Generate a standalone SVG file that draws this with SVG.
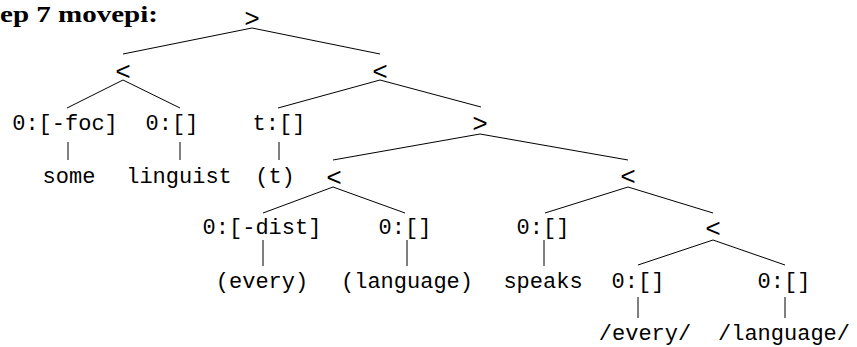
<svg xmlns="http://www.w3.org/2000/svg" width="857" height="347" viewBox="0 0 857 347">
<style>
.t{font-family:"Liberation Mono","DejaVu Sans Mono",monospace;font-size:22px;fill:#000;text-anchor:middle}
.o{font-family:"Liberation Mono","DejaVu Sans Mono",monospace;font-size:26px;fill:#000;text-anchor:middle}
.h{font-family:"Liberation Serif","DejaVu Serif",serif;font-size:23px;font-weight:bold;fill:#000}
#edges line{stroke:#000;stroke-width:1;fill:none}
</style>
<rect width="857" height="347" fill="#fff"/>
<text class="h" x="0" y="22" textLength="158" lengthAdjust="spacingAndGlyphs">ep 7 movepi:</text>
<g id="edges">
<line x1="252" y1="28" x2="123" y2="54"/>
<line x1="252" y1="28" x2="380" y2="54"/>
<line x1="123" y1="80" x2="67" y2="108"/>
<line x1="123" y1="80" x2="180" y2="108"/>
<line x1="380" y1="80" x2="278" y2="108"/>
<line x1="380" y1="80" x2="481" y2="107"/>
<line x1="68" y1="142" x2="68" y2="160"/>
<line x1="180" y1="142" x2="180" y2="160"/>
<line x1="279" y1="142" x2="279" y2="160"/>
<line x1="480" y1="134" x2="333" y2="160"/>
<line x1="480" y1="134" x2="628" y2="160"/>
<line x1="333" y1="187" x2="263" y2="213"/>
<line x1="333" y1="187" x2="405" y2="213"/>
<line x1="628" y1="187" x2="545" y2="213"/>
<line x1="628" y1="187" x2="713" y2="213"/>
<line x1="263" y1="240" x2="263" y2="266"/>
<line x1="407" y1="240" x2="407" y2="266"/>
<line x1="544" y1="240" x2="544" y2="266"/>
<line x1="713" y1="240" x2="638" y2="265"/>
<line x1="713" y1="240" x2="785" y2="265"/>
<line x1="638" y1="297" x2="638" y2="318"/>
<line x1="785" y1="297" x2="785" y2="318"/>
</g>
<g id="n-root"><text class="o" x="252" y="27">&gt;</text></g>
<g id="n-l1a"><text class="o" x="123" y="80">&lt;</text></g>
<g id="n-l1b"><text class="o" x="380" y="80">&lt;</text></g>
<g id="n-foc"><text class="t" x="65" y="130">0:[-foc]</text></g>
<g id="n-0a"><text class="t" x="172" y="130">0:[]</text></g>
<g id="n-t"><text class="t" x="279" y="130">t:[]</text></g>
<g id="n-gt2"><text class="o" x="480" y="132">&gt;</text></g>
<g id="n-some"><text class="t" x="69" y="183">some</text></g>
<g id="n-linguist"><text class="t" x="179" y="183">linguist</text></g>
<g id="n-tt"><text class="t" x="275" y="183">(t)</text></g>
<g id="n-lt3a"><text class="o" x="334" y="186">&lt;</text></g>
<g id="n-lt3b"><text class="o" x="628" y="185">&lt;</text></g>
<g id="n-dist"><text class="t" x="262" y="234">0:[-dist]</text></g>
<g id="n-0b"><text class="t" x="405" y="234">0:[]</text></g>
<g id="n-0c"><text class="t" x="543" y="234">0:[]</text></g>
<g id="n-lt4"><text class="o" x="713" y="237">&lt;</text></g>
<g id="n-every"><text class="t" x="262" y="288">(every)</text></g>
<g id="n-language"><text class="t" x="407" y="288">(language)</text></g>
<g id="n-speaks"><text class="t" x="543" y="288">speaks</text></g>
<g id="n-0d"><text class="t" x="638" y="288">0:[]</text></g>
<g id="n-0e"><text class="t" x="784" y="288">0:[]</text></g>
<g id="n-pevery"><text class="t" x="645" y="340">/every/</text></g>
<g id="n-planguage"><text class="t" x="784" y="340">/language/</text></g>
</svg>
